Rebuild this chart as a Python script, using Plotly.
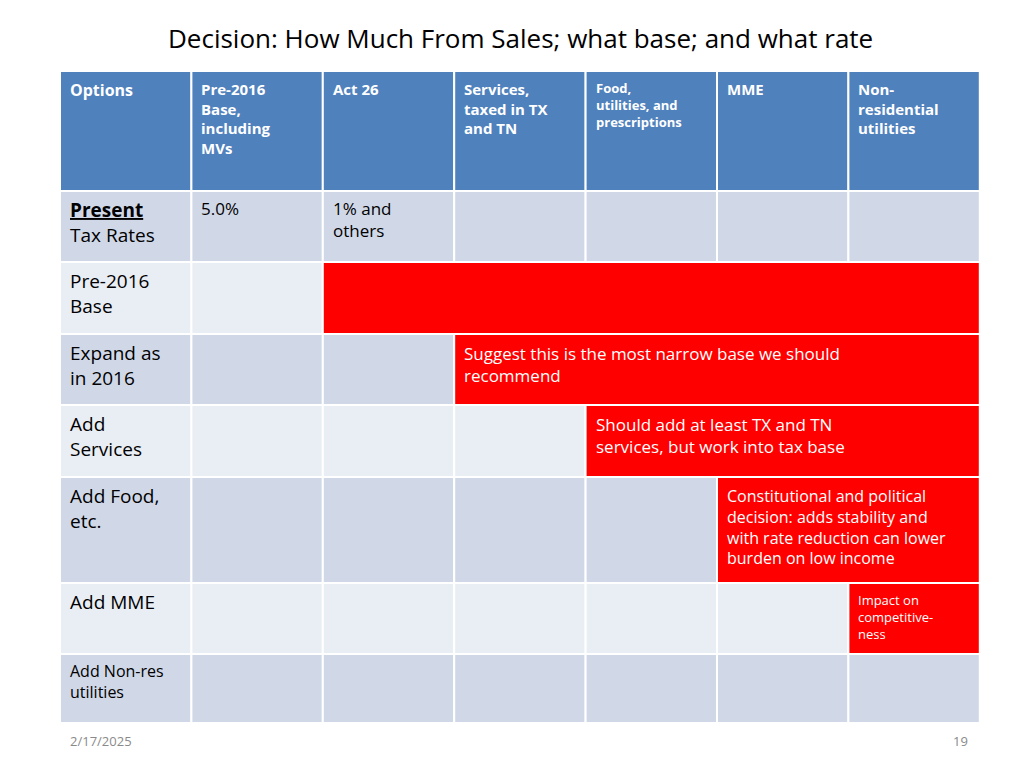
import plotly.graph_objects as go

title = "Decision: How Much From Sales; what base; and what rate"
columns = ["Options", "Pre-2016<br>Base,<br>including<br>MVs", "Act 26", "Services,<br>taxed in TX<br>and TN",
           "Food,<br>utilities, and<br>prescriptions", "MME", "Non-<br>residential<br>utilities"]
row_labels = ["<b><u>Present</u></b><br>Tax Rates", "Pre-2016<br>Base", "Expand as<br>in 2016", "Add<br>Services",
              "Add Food,<br>etc.", "Add MME", "Add Non-res<br>utilities"]
present_rates = ["5.0%", "1% and<br>others"]
# (row index, first red column, last red column, note)
red_spans = [
    (1, 2, 6, ""),
    (2, 3, 6, "Suggest this is the most narrow base we should<br>recommend"),
    (3, 4, 6, "Should add at least TX and TN<br>services, but work into tax base"),
    (4, 5, 6, "Constitutional and political<br>decision: adds stability and<br>with rate reduction can lower<br>burden on low income"),
    (5, 6, 6, "Impact on<br>competitive-<br>ness"),
]
note_sizes = [18, 20, 20, 16, 13]
footer_date = "2/17/2025"
page_no = "19"

# layout grid (pixels)
col_edges = [52 + i * 131.4 for i in range(8)]
row_edges = [63, 183, 254, 326, 397, 469, 575, 646, 715]

HEADER = "#4F81BD"
DARK = "#D0D8E8"
LIGHT = "#E9EDF4"
RED = "#FF0000"
FONT = "Open Sans"

fig = go.Figure()
shapes, ann = [], []

def cell(c0, c1, r, color):
    shapes.append(dict(type="rect", x0=col_edges[c0], x1=col_edges[c1 + 1], y0=row_edges[r], y1=row_edges[r + 1],
                       fillcolor=color, line=dict(color="white", width=2), layer="below"))

def text(c, r, s, size, color="black", dy=4):
    ann.append(dict(x=col_edges[c] + 8, y=row_edges[r] + dy, text=s, xanchor="left", yanchor="top",
                    align="left", showarrow=False, font=dict(family=FONT, size=size, color=color)))

for c, name in enumerate(columns):
    cell(c, c, 0, HEADER)
    size = 16 if c == 0 else (13 if c == 4 else 15)
    text(c, 0, "<b>%s</b>" % name, size, "white", 6)

for i, lab in enumerate(row_labels):
    r = i + 1
    for c in range(7):
        cell(c, c, r, DARK if i % 2 == 0 else LIGHT)
    text(0, r, lab, 16 if i == 6 else 19)

for c, v in enumerate(present_rates):
    text(c + 1, 1, v, 17)

for (i, c0, c1, note), sz in zip(red_spans, note_sizes):
    cell(c0, c1, i + 1, RED)
    if note:
        text(c0, i + 1, note, sz * 0.85 if sz > 16 else sz, "white", 6)

ann.append(dict(x=512, y=30, text=title, showarrow=False, xanchor="center", yanchor="middle",
                font=dict(family=FONT, size=26, color="black")))
ann.append(dict(x=60, y=733, text=footer_date, showarrow=False, xanchor="left",
                font=dict(family=FONT, size=13, color="#8a8a8a")))
ann.append(dict(x=962, y=733, text=page_no, showarrow=False, xanchor="right",
                font=dict(family=FONT, size=13, color="#8a8a8a")))

fig.update_layout(width=1024, height=768, margin=dict(l=0, r=0, t=0, b=0),
                  paper_bgcolor="white", plot_bgcolor="white", shapes=shapes, annotations=ann,
                  xaxis=dict(range=[0, 1024], visible=False, fixedrange=True),
                  yaxis=dict(range=[768, 0], visible=False, fixedrange=True), showlegend=False)
fig.write_html("out.html")
